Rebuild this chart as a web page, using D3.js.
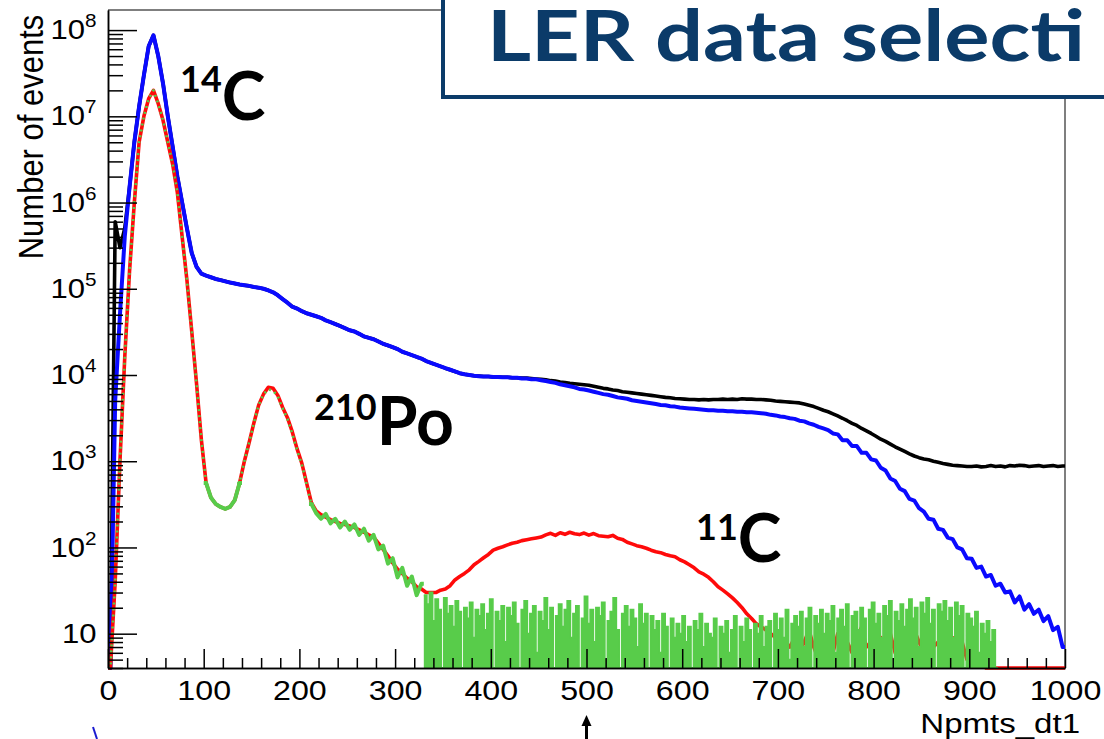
<!DOCTYPE html>
<html>
<head>
<meta charset="utf-8">
<script src="https://cdn.jsdelivr.net/npm/d3@7"></script>
<style>
  body { margin: 0; background: #fff; overflow: hidden; }
  svg { display: block; }
  .axis text { font-family: "Liberation Sans", Arial, sans-serif; fill: #000; }
  .axis line, .axis path { stroke: #000; stroke-width: 1.5; }
  .note { font-family: Lato, "Open Sans", sans-serif; font-weight: 700; fill: #000; }
</style>
</head>
<body>
<div id="chart"></div>
<script>
// histogram contents, 5-unit bins from 0 to 1000 (Npmts_dt1)
const binWidth = 5;

const blackCounts = [
  0, 6e5, 3e5, 5e5, 1.5e6, 5e6, 1.3e7, 3e7, 6.5e7, 8.7e7,
  5e7, 2.4e7, 1e7, 4.5e6, 2e6, 1e6, 5e5, 2.6e5, 1.8e5, 1.5e5,
  1.42e5, 1.36e5, 1.3e5, 1.26e5, 1.22e5, 1.18e5, 1.15e5, 1.12e5, 1.1e5, 1.08e5,
  1.05e5, 1.03e5, 1e5, 9.6e4, 9.1e4, 8.4e4, 7.6e4, 6.9e4, 6.2e4, 5.9e4,
  5.5e4, 5.2e4, 5e4, 4.8e4, 4.6e4, 4.3e4, 4.1e4, 3.9e4, 3.7e4, 3.5e4,
  3.3e4, 3.2e4, 3e4, 2.8e4, 2.7e4, 2.6e4, 2.45e4, 2.3e4, 2.2e4, 2.1e4,
  2e4, 1.86e4, 1.78e4, 1.7e4, 1.62e4, 1.55e4, 1.45e4, 1.38e4, 1.32e4, 1.26e4,
  1.2e4, 1.15e4, 1.1e4, 1.05e4, 1.02e4, 1e4, 9.8e3, 9.7e3, 9.6e3, 9.6e3,
  9.5e3, 9.5e3, 9.4e3, 9.4e3, 9.3e3, 9.3e3, 9.2e3, 9.2e3, 9.1e3, 9e3,
  8.9e3, 8.8e3, 8.6e3, 8.5e3, 8.3e3, 8.2e3, 8e3, 7.9e3, 7.8e3, 7.7e3,
  7.6e3, 7.4e3, 7.2e3, 7e3, 6.9e3, 6.7e3, 6.6e3, 6.4e3, 6.3e3, 6.2e3,
  6.1e3, 6e3, 5.9e3, 5.8e3, 5.7e3, 5.6e3, 5.5e3, 5.45e3, 5.35e3, 5.3e3,
  5.25e3, 5.2e3, 5.2e3, 5.15e3, 5.2e3, 5.15e3, 5.2e3, 5.2e3, 5.25e3, 5.2e3,
  5.25e3, 5.2e3, 5.3e3, 5.25e3, 5.25e3, 5.2e3, 5.2e3, 5.15e3, 5.1e3, 5e3,
  4.95e3, 4.9e3, 4.85e3, 4.8e3, 4.75e3, 4.6e3, 4.45e3, 4.3e3, 4.1e3, 3.9e3,
  3.75e3, 3.55e3, 3.35e3, 3.15e3, 2.95e3, 2.75e3, 2.6e3, 2.4e3, 2.25e3, 2.1e3,
  1.95e3, 1.8e3, 1.7e3, 1.58e3, 1.47e3, 1.38e3, 1.3e3, 1.22e3, 1.15e3, 1.1e3,
  1.06e3, 1.04e3, 1e3, 970, 940, 920, 900, 890, 880, 870,
  870, 880, 860, 870, 890, 870, 880, 860, 890, 880,
  900, 890, 870, 880, 890, 870, 880, 890, 870, 880
];

const blueCounts = [
  0, 5e3, 5e4, 4e5, 1.5e6, 5e6, 1.3e7, 3e7, 6.5e7, 8.7e7,
  5e7, 2.4e7, 1e7, 4.5e6, 2e6, 1e6, 5e5, 2.6e5, 1.8e5, 1.5e5,
  1.42e5, 1.36e5, 1.3e5, 1.26e5, 1.22e5, 1.18e5, 1.15e5, 1.12e5, 1.1e5, 1.08e5,
  1.05e5, 1.03e5, 1e5, 9.6e4, 9.1e4, 8.4e4, 7.6e4, 6.9e4, 6.2e4, 5.9e4,
  5.5e4, 5.2e4, 5e4, 4.8e4, 4.6e4, 4.3e4, 4.1e4, 3.9e4, 3.7e4, 3.5e4,
  3.3e4, 3.2e4, 3e4, 2.8e4, 2.7e4, 2.6e4, 2.45e4, 2.3e4, 2.2e4, 2.1e4,
  2e4, 1.86e4, 1.78e4, 1.7e4, 1.62e4, 1.55e4, 1.45e4, 1.38e4, 1.32e4, 1.26e4,
  1.2e4, 1.15e4, 1.1e4, 1.05e4, 1.02e4, 1e4, 9.8e3, 9.7e3, 9.6e3, 9.6e3,
  9.5e3, 9.5e3, 9.4e3, 9.4e3, 9.3e3, 9.3e3, 9.1e3, 9.1e3, 8.9e3, 8.9e3,
  8.7e3, 8.5e3, 8.3e3, 8.1e3, 7.8e3, 7.6e3, 7.4e3, 7.2e3, 6.9e3, 6.8e3,
  6.6e3, 6.4e3, 6.2e3, 6e3, 5.9e3, 5.7e3, 5.5e3, 5.4e3, 5.3e3, 5.1e3,
  5e3, 4.9e3, 4.8e3, 4.7e3, 4.6e3, 4.5e3, 4.45e3, 4.35e3, 4.3e3, 4.2e3,
  4.15e3, 4.1e3, 4.05e3, 4e3, 3.95e3, 3.9e3, 3.9e3, 3.85e3, 3.85e3, 3.8e3,
  3.8e3, 3.75e3, 3.75e3, 3.7e3, 3.7e3, 3.65e3, 3.6e3, 3.55e3, 3.45e3, 3.4e3,
  3.3e3, 3.25e3, 3.15e3, 3.1e3, 2.95e3, 2.9e3, 2.75e3, 2.65e3, 2.5e3, 2.4e3,
  2.3e3, 2.1e3, 2.05e3, 1.75e3, 1.75e3, 1.5e3, 1.5e3, 1.25e3, 1.25e3, 1.05e3,
  1.02e3, 840, 780, 630, 590, 480, 450, 365, 350, 285,
  260, 215, 210, 165, 160, 130, 125, 100, 95, 75,
  74, 58, 60, 46, 48, 36, 38, 30, 31, 23,
  27, 19, 22, 17, 19, 14, 16, 11, 12, 7
];

const redCounts = [
  0, 40, 1e3, 1.6e4, 1.6e5, 1e6, 5e6, 1e7, 1.6e7, 2e7,
  1.4e7, 9e6, 5e6, 2.8e6, 1.3e6, 4e5, 1.25e5, 3.2e4, 8e3, 1.8e3,
  560, 380, 320, 295, 280, 295, 355, 560, 1e3, 1.65e3,
  2.8e3, 4.5e3, 6e3, 7.2e3, 7e3, 5.8e3, 4.2e3, 3.2e3, 2.2e3, 1.4e3,
  950, 560, 330, 265, 240, 225, 210, 200, 190, 185,
  178, 170, 160, 150, 140, 132, 112, 95, 80, 66,
  56, 50, 44, 40, 35, 33, 30, 30, 30, 32,
  33, 36, 42, 46, 50, 55, 63, 69, 76, 83,
  93, 98, 102, 107, 112, 115, 120, 123, 126, 129,
  132, 140, 146, 138, 148, 142, 150, 144, 141, 147,
  139, 145, 137, 135, 133, 138, 128, 124, 115, 110,
  105, 102, 98, 93, 89, 87, 83, 80, 78, 72,
  68, 63, 58, 52, 49, 45, 40, 35, 32, 29,
  26, 23, 20, 17, 15, 13, 12, 11, 10, 9,
  9, 8, 7, 9, 6, 8, 11, 7, 5, 9,
  8, 6, 10, 7, 8, 6, 9, 12, 7, 8,
  5, 9, 7, 10, 6, 8, 9, 7, 11, 8,
  6, 9, 7, 8, 10, 6, 9, 7, 8, 5,
  7, 6, 5, 4, 3, 0, 0, 0, 0, 0,
  0, 0, 0, 0, 0, 0, 0, 0, 0, 0
];

// green: 5-unit bins from 0 to 330, then 3-unit bins from 330 to 930
const greenPeakCounts = [
  0, 40, 1e3, 1.6e4, 1.6e5, 1e6, 5e6, 1e7, 1.6e7, 2e7,
  1.4e7, 9e6, 5e6, 2.8e6, 1.3e6, 4e5, 1.25e5, 3.2e4, 8e3, 1.8e3,
  560, 380, 320, 295, 280, 295, 355, 560, 1e3, 1.65e3,
  2.8e3, 4.5e3, 6e3, 6.8e3, 6.6e3, 5.6e3, 4.1e3, 3.1e3, 2.1e3, 1.35e3,
  920, 540, 320, 250, 215, 245, 190, 215, 170, 200,
  160, 185, 140, 165, 120, 140, 95, 105, 65, 75,
  45, 58, 36, 46, 28, 38
];
const greenTailStart = 330, greenTailWidth = 3;
const greenTailCounts = [
  28, 22, 30, 14, 25, 19, 3, 26, 17, 21,
  12, 24, 18, 2, 20, 15, 23, 9, 19, 16,
  22, 11, 17, 25, 4, 18, 14, 21, 8, 20,
  16, 23, 13, 2, 19, 24, 10, 17, 21, 6,
  18, 14, 26, 11, 20, 3, 16, 22, 12, 19,
  24, 9, 17, 21, 1, 15, 27, 13, 19, 8,
  20, 16, 23, 5, 14, 18, 26, 11, 2, 17,
  21, 12, 19, 15, 7, 22, 13, 17, 3, 16,
  11, 14, 6, 17, 12, 2, 15, 9, 13, 10,
  16, 8, 12, 1, 14, 11, 17, 7, 13, 10,
  9, 15, 3, 12, 10, 14, 6, 11, 16, 2,
  12, 8, 15, 11, 4, 13, 10, 16, 7, 12,
  14, 2, 17, 11, 15, 9, 19, 5, 13, 16,
  12, 18, 7, 15, 20, 3, 16, 13, 19, 10,
  17, 14, 21, 6, 15, 19, 12, 22, 2, 16,
  18, 11, 20, 15, 4, 19, 23, 13, 17, 9,
  21, 16, 24, 3, 18, 14, 22, 12, 19, 25,
  15, 20, 7, 23, 17, 26, 13, 19, 2, 22,
  18, 24, 14, 20, 9, 23, 16, 21, 4, 17,
  15, 12, 18, 6, 13, 10, 14, 8, 11, 0
];

const xMajorTicks = [0, 100, 200, 300, 400, 500, 600, 700, 800, 900, 1000];
const yMajorTicks = [10, 1e2, 1e3, 1e4, 1e5, 1e6, 1e7, 1e8];
const yMin = 4, yMax = 1.71e8;

const W = 1104, H = 739;
const frame = {left: 108, right: 1065, top: 10, bottom: 668};
const stretch = 1.15; // ROOT texts look widened in the picture

const svg = d3.select("#chart").append("svg")
    .attr("width", W)
    .attr("height", H);

const x = d3.scaleLinear().domain([0, 1000]).range([frame.left, frame.right]);
const y = d3.scaleLog().domain([yMin, yMax]).range([frame.bottom, frame.top]).clamp(true);

function toBins(counts, start, width) {
    return counts.map((v, i) => ({x0: start + i * width, x1: start + (i + 1) * width, v: v}));
}

const yv = v => y(Math.max(v, yMin));

// smooth look (fine binning in the original): line through the bin centres
const centreLine = d3.line().x(d => x(d[0])).y(d => yv(d[1]));
function linePath(bins) {
    const pts = [[bins[0].x0, bins[0].v]];
    bins.forEach(b => pts.push([(b.x0 + b.x1) / 2, b.v]));
    const last = bins[bins.length - 1];
    pts.push([last.x1, last.v]);
    return centreLine(pts);
}

// step look for the noisy part
function stepPoints(bins) {
    const pts = bins.map(b => [b.x0, b.v]);
    const last = bins[bins.length - 1];
    pts.push([last.x1, last.v]);
    return pts;
}
const stepLine = d3.line().x(d => x(d[0])).y(d => yv(d[1])).curve(d3.curveStepAfter);
const stepArea = d3.area().x(d => x(d[0])).y0(frame.bottom).y1(d => yv(d[1])).curve(d3.curveStepAfter);

// frame (top and right sides)
svg.append("path")
    .attr("d", `M${frame.left},${frame.top}H${frame.right}V${frame.bottom}`)
    .attr("fill", "none")
    .attr("stroke", "#555")
    .attr("stroke-width", 1.5);

const plot = svg.append("g").attr("stroke-linejoin", "round");

plot.append("path")
    .attr("d", linePath(toBins(blackCounts, 0, binWidth)))
    .attr("fill", "none").attr("stroke", "#000").attr("stroke-width", 3.6);

plot.append("path")
    .attr("d", linePath(toBins(blueCounts, 0, binWidth)))
    .attr("fill", "none").attr("stroke", "#0a0aff").attr("stroke-width", 4);

plot.append("path")
    .attr("d", linePath(toBins(redCounts, 0, binWidth)))
    .attr("fill", "none").attr("stroke", "#ff0a0a").attr("stroke-width", 3.6);

const greenPeakBins = toBins(greenPeakCounts, 0, binWidth);
const greenTailBins = toBins(greenTailCounts, greenTailStart, greenTailWidth);
const green = "#58cc4a";

// green lies on top of red: dotted where they coincide, solid elsewhere
const greenParts = [
    {from: 0, to: 105, dashed: true},
    {from: 100, to: 140, dashed: false},
    {from: 135, to: 215, dashed: true},
    {from: 210, to: 330, dashed: false}
];
greenParts.forEach(p => {
    const part = greenPeakBins.filter(b => b.x0 >= p.from && b.x1 <= p.to);
    plot.append("path")
        .attr("d", linePath(part))
        .attr("fill", "none")
        .attr("stroke", green)
        .attr("stroke-width", p.dashed ? 2.6 : 4)
        .attr("stroke-dasharray", p.dashed ? "2,4" : null);
});

// dense noisy tail: the fine bins of the original merge into a solid band
plot.append("path")
    .attr("d", stepArea(stepPoints(greenTailBins)))
    .attr("fill", green);
plot.append("path")
    .attr("d", stepLine(stepPoints(greenTailBins)))
    .attr("fill", "none")
    .attr("stroke", green)
    .attr("stroke-width", 2)
    .attr("stroke-linejoin", "miter");

// x axis
const xMinorTicks = d3.range(0, 1001, 20).filter(v => v % 100 !== 0);

svg.append("g")
    .attr("class", "axis")
    .attr("transform", `translate(0,${frame.bottom})`)
    .call(d3.axisBottom(x).tickValues(xMinorTicks).tickSizeInner(-10).tickSizeOuter(0).tickFormat(""));

const gx = svg.append("g")
    .attr("class", "axis")
    .attr("transform", `translate(0,${frame.bottom})`)
    .call(d3.axisBottom(x).tickValues(xMajorTicks).tickSizeInner(-19).tickSizeOuter(0).tickPadding(12).tickFormat(d3.format("d")));
gx.selectAll("text")
    .style("font-size", "28px")
    .attr("transform", `scale(${stretch},1)`);

// y axis
const yMinorTicks = [];
for (let e = 0; e <= 7; e++) {
    for (let m = 2; m <= 9; m++) {
        const v = m * Math.pow(10, e);
        if (v >= yMin && v <= yMax) yMinorTicks.push(v);
    }
}

svg.append("g")
    .attr("class", "axis")
    .attr("transform", `translate(${frame.left},0)`)
    .call(d3.axisLeft(y).tickValues(yMinorTicks).tickSizeInner(-15).tickSizeOuter(0).tickFormat(""));

const gy = svg.append("g")
    .attr("class", "axis")
    .attr("transform", `translate(${frame.left},0)`)
    .call(d3.axisLeft(y).tickValues(yMajorTicks).tickSizeInner(-29).tickSizeOuter(0).tickPadding(10).tickFormat(""));

gy.selectAll(".tick text").each(function(d) {
    const t = d3.select(this)
        .style("font-size", "27px")
        .attr("transform", `scale(${stretch},1)`);
    const exp = Math.round(Math.log10(d));
    t.append("tspan").text("10");
    if (exp !== 1) {
        t.append("tspan").attr("dy", "-12").style("font-size", "18px").text(exp);
    }
});

// axis titles
svg.append("text")
    .attr("transform", `translate(30,137) scale(${stretch},1) rotate(-90)`)
    .attr("dy", "0.36em")
    .attr("text-anchor", "middle")
    .style("font-family", "'Liberation Sans', Arial, sans-serif")
    .style("font-size", "31px")
    .text("Number of events");

svg.append("text")
    .attr("transform", `translate(1080,733) scale(${stretch + 0.03},1)`)
    .attr("text-anchor", "end")
    .style("font-family", "'Liberation Sans', Arial, sans-serif")
    .style("font-size", "28px")
    .text("Npmts_dt1");

// isotope labels
function isotope(xp, yp, mass, name, shift) {
    const t = svg.append("text").attr("class", "note").attr("x", xp).attr("y", yp);
    t.append("tspan").style("font-size", "36px").attr("dy", -shift).text(mass);
    t.append("tspan").style("font-size", "66px").attr("dy", shift).text(name);
}
isotope(180, 120, "14", "C", 28);
isotope(314, 445, "210", "Po", 25);
isotope(696, 562, "11", "C", 22);

// title box, running past the right edge of the page
svg.append("rect")
    .attr("x", 443).attr("y", -20)
    .attr("width", 720).attr("height", 117)
    .attr("fill", "#fff")
    .attr("stroke", "#0b3b69")
    .attr("stroke-width", 4);

svg.append("text")
    .attr("x", 487).attr("y", 61)
    .attr("textLength", 598)
    .attr("lengthAdjust", "spacingAndGlyphs")
    .style("font-family", "Lato, 'Open Sans', sans-serif")
    .style("font-weight", 700)
    .style("font-size", "70px")
    .attr("fill", "#0b3b69")
    .text("LER data selecti");

// arrow marking 500 below the axis
svg.append("line")
    .attr("x1", x(500)).attr("x2", x(500))
    .attr("y1", 739).attr("y2", 724)
    .attr("stroke", "#000").attr("stroke-width", 3);
svg.append("path")
    .attr("d", `M${x(500) - 5},${726}L${x(500)},${715}L${x(500) + 5},${726}Z`)
    .attr("fill", "#000");

// stray blue stroke at the lower left
svg.append("line")
    .attr("x1", 93).attr("y1", 727).attr("x2", 97).attr("y2", 739)
    .attr("stroke", "#1a1ad0").attr("stroke-width", 2);
</script>
</body>
</html>
